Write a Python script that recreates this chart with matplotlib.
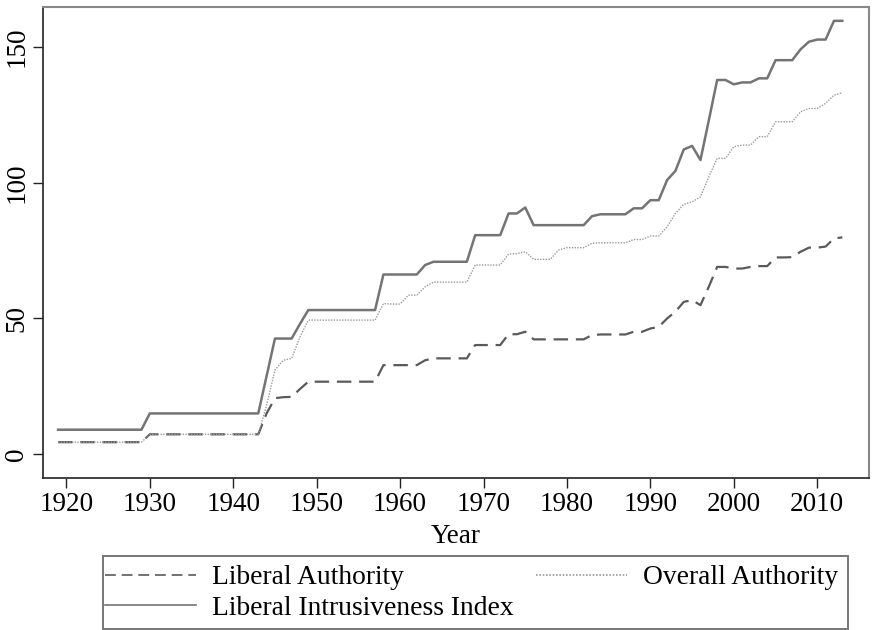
import matplotlib
matplotlib.use("Agg")
import matplotlib.pyplot as plt
from matplotlib.patches import Rectangle

years = list(range(1919, 2014))

liberal_authority = (
    [4.4] * 11                       # 1919-1929
    + [7.3] * 14                     # 1930-1943
    + [15.0, 20.6, 21.0, 21.1, 24.0] # 1944-1948
    + [26.7] * 9                     # 1949-1957
    + [32.8] * 5                     # 1958-1962
    + [34.6] + [35.3] * 5            # 1963-1968
    + [40.2] * 4                     # 1969-1972
    + [44.2, 44.2, 45.1]             # 1973-1975
    + [42.3] * 7                     # 1976-1982
    + [43.9] + [44.1] * 4            # 1983-1987
    + [45.1, 45.1, 46.3, 46.9, 50.0, 52.5, 56.1, 56.8, 54.9, 61.7]  # 1988-1997
    + [69.0, 69.0, 68.4, 68.4, 69.0, 69.3, 69.3]                    # 1998-2004
    + [72.5, 72.5, 72.6, 74.6, 76.1, 76.1, 76.5, 79.5, 79.9]        # 2005-2013
)

overall_authority = (
    [4.4] * 11                       # 1919-1929
    + [7.3] * 14                     # 1930-1943
    + [18.0, 31.0, 34.6, 35.3, 43.2] # 1944-1948
    + [49.4] * 9                     # 1949-1957
    + [55.5, 55.3, 55.3, 58.6, 58.6] # 1958-1962
    + [61.7] + [63.4] * 5            # 1963-1968
    + [69.7] * 4                     # 1969-1972
    + [73.7, 73.9, 74.6]             # 1973-1975
    + [71.8, 71.8, 71.8, 75.2, 76.1, 76.1, 76.1]  # 1976-1982
    + [77.7] + [77.9] * 4            # 1983-1987
    + [79.1, 79.1, 80.4, 80.4, 83.8, 88.7, 92.1, 93.0, 94.8, 102.2]  # 1988-1997
    + [109.0, 109.0, 113.3, 113.9, 113.9, 117.0, 117.0]              # 1998-2004
    + [122.5, 122.5, 122.5, 126.2, 127.4, 127.4, 129.3, 132.3, 133.2]  # 2005-2013
)

intrusiveness_index = (
    [9.0] * 11                       # 1919-1929
    + [15.0] * 14                    # 1930-1943
    + [28.8, 42.6, 42.6, 42.6, 48.0] # 1944-1948
    + [53.1] * 9                     # 1949-1957
    + [66.2] * 5                     # 1958-1962
    + [69.7] + [70.9] * 5            # 1963-1968
    + [80.7] * 4                     # 1969-1972
    + [88.7, 88.7, 90.9]             # 1973-1975
    + [84.4] * 7                     # 1976-1982
    + [87.7] + [88.4] * 4            # 1983-1987
    + [90.6, 90.6, 93.6, 93.6, 101.0, 104.4, 112.3, 113.6, 108.4, 123.0]  # 1988-1997
    + [137.9, 137.9, 136.3, 137.0, 137.0, 138.5, 138.5]                   # 1998-2004
    + [145.2, 145.2, 145.2, 149.2, 152.0, 152.8, 152.8, 159.7, 159.7]     # 2005-2013
)

x_ticks = [1920, 1930, 1940, 1950, 1960, 1970, 1980, 1990, 2000, 2010]
y_ticks = [0, 50, 100, 150]

plt.rcParams["font.family"] = ["Liberation Serif", "DejaVu Serif"]

W, H = 872, 630
fig = plt.figure(figsize=(W / 100, H / 100), dpi=100)
ax = fig.add_axes([43 / W, 1 - 478 / H, (869 - 43) / W, (478 - 7) / H])

h_la, = ax.plot(years, liberal_authority, color="#5a5a5a", lw=1.6,
                linestyle=(0, (6.5, 3.5)), label="Liberal Authority")
h_oa, = ax.plot(years, overall_authority, color="#9a9a9a", lw=1.0,
                linestyle=(0, (1, 1)), label="Overall Authority")
h_li, = ax.plot(years, intrusiveness_index, color="#747474", lw=1.8,
                linestyle="-", label="Liberal Intrusiveness Index")

ax.set_xlim(1917.2, 2016.2)
ax.set_ylim(-8.8, 164.8)
ax.set_xticks(x_ticks)
ax.set_yticks(y_ticks)
ax.tick_params(axis="both", direction="out", length=7, width=1.0,
               labelsize=19.5, color="#222222")
ax.tick_params(axis="x", pad=3)
ax.tick_params(axis="y", pad=3)
for lbl in ax.get_yticklabels():
    lbl.set_rotation(90)
    lbl.set_va("center")

for side in ("left", "bottom"):
    ax.spines[side].set_color("#222222")
    ax.spines[side].set_linewidth(1.2)
for side in ("top", "right"):
    ax.spines[side].set_color("#888888")
    ax.spines[side].set_linewidth(1.5)

ax.set_xlabel("Year", fontsize=19.5, labelpad=5)

# legend entries below the plot, with a plain rectangular border
leg = fig.legend(
    handles=[h_la, h_li, h_oa],
    labels=["Liberal Authority", "Liberal Intrusiveness Index", "Overall Authority"],
    ncol=2,
    loc="upper left",
    bbox_to_anchor=(105 / W, 1 - 565 / H),
    fontsize=19.8,
    frameon=False,
    handlelength=3.3,
    handletextpad=0.6,
    borderaxespad=0.0,
    borderpad=0.0,
    labelspacing=0.2,
    columnspacing=0.8,
)
for line in leg.get_lines():
    line.set_linewidth(1.2)

fig.add_artist(Rectangle((103 / W, 1 - 629 / H), (848 - 103) / W, (629 - 556) / H,
                         transform=fig.transFigure, fill=False,
                         edgecolor="#777777", linewidth=1.4))

fig.savefig("out.png", dpi=100)
